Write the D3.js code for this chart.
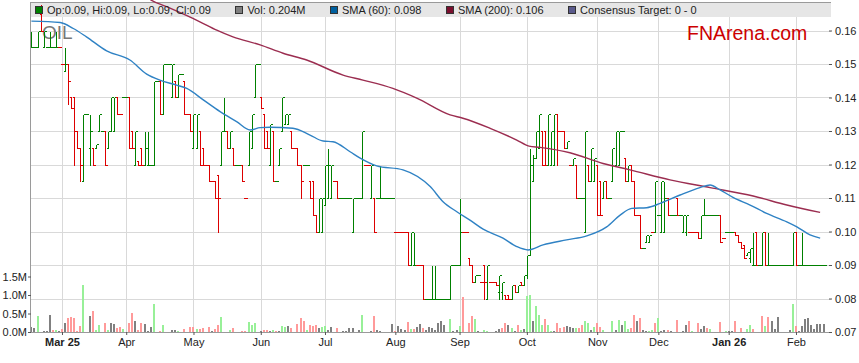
<!DOCTYPE html>
<html>
<head>
<meta charset="utf-8">
<script src="https://cdnjs.cloudflare.com/ajax/libs/d3/7.8.5/d3.min.js"></script>
<style>
	body { margin:0; background:#fff; }
	svg { display:block; font-family:'Liberation Sans', Arial, sans-serif; }
	.axis text { font-size:11px; fill:#222; }
	.axis path { display:none; }
	.axis line { stroke:#555; }
</style>
</head>
<body>
<div id="chart"></div>
<script>

// daily OHLC, one entry per weekday from 17 Feb 2025 to 13 Feb 2026
var opens = [
	.155,.155,.155,.165,.155,.155,.155,.155,.155,.155,
	.150,.148,.150,.140,.140,.130,.125,.115,.135,.125,
	.125,.125,.130,.130,.130,.125,.130,.130,.140,.135,
	.140,.140,.140,.130,.120,.121,.125,.120,.120,.120,
	.120,.145,.145,.135,.150,.150,.140,.145,.140,.147,
	.145,.135,.135,.125,.125,.130,.125,.120,.120,.115,
	.115,.117,.120,.130,.130,.125,.125,.120,.120,.120,
	.110,.120,.125,.140,.150,.140,.135,.130,.120,.130,
	.115,.120,.130,.132,.132,.130,.125,.125,.120,.120,
	.120,.115,.115,.105,.100,.100,.108,.110,.110,.115,
	.115,.110,.110,.110,.110,.100,.110,.110,.110,.120,
	.120,.110,.110,.110,.110,.110,.110,.110,.110,.100,
	.100,.100,.100,.100,.090,.090,.090,.090,.090,.080,
	.080,.080,.080,.080,.080,.080,.080,.080,.090,.090,
	.090,.100,.100,.092,.090,.085,.087,.085,.090,.080,
	.085,.085,.085,.082,.082,.081,.081,.080,.084,.082,
	.085,.084,.087,.093,.115,.122,.125,.130,.130,.120,
	.120,.120,.135,.130,.130,.125,.120,.120,.120,.110,
	.110,.100,.120,.115,.115,.120,.115,.110,.115,.110,
	.115,.120,.120,.130,.122,.115,.120,.115,.105,.105,
	.095,.097,.097,.100,.100,.105,.100,.100,.110,.105,
	.105,.110,.105,.100,.100,.100,.100,.100,.100,.098,
	.105,.105,.105,.105,.105,.105,.098,.100,.100,.100,
	.100,.099,.097,.096,.093,.092,.090,.100,.090,.090,
	.100,.090,.090,.090,.090,.090,.090,.090,.090,.090,
	.100,.090,.090,.090,.090,.090,.090,.090,.090,.090
]

var highs = [
	.160,.155,.160,.168,.160,.155,.160,.155,.160,.155,
	.150,.155,.150,.140,.140,.130,.125,.135,.135,.135,
	.125,.126,.135,.130,.130,.130,.140,.140,.140,.135,
	.140,.140,.140,.130,.130,.121,.125,.130,.130,.120,
	.145,.145,.145,.150,.150,.150,.150,.145,.147,.147,
	.145,.135,.135,.135,.135,.130,.125,.120,.120,.115,
	.115,.117,.130,.140,.130,.130,.125,.120,.120,.120,
	.110,.130,.135,.150,.150,.140,.135,.130,.132,.130,
	.115,.125,.140,.135,.135,.130,.125,.125,.120,.120,
	.120,.115,.115,.105,.110,.110,.120,.125,.120,.115,
	.115,.110,.110,.110,.110,.110,.110,.110,.130,.120,
	.120,.120,.110,.110,.120,.110,.110,.110,.110,.100,
	.100,.100,.100,.100,.100,.100,.090,.090,.090,.080,
	.080,.090,.090,.080,.080,.080,.080,.090,.090,.090,
	.110,.100,.100,.092,.090,.087,.087,.085,.090,.090,
	.085,.085,.085,.087,.085,.081,.081,.084,.084,.084,
	.085,.087,.093,.125,.123,.130,.135,.130,.130,.135,
	.130,.135,.135,.130,.130,.127,.120,.122,.120,.110,
	.110,.130,.120,.125,.122,.120,.115,.115,.115,.110,
	.125,.130,.130,.130,.122,.120,.120,.115,.105,.105,
	.095,.099,.099,.100,.115,.105,.115,.115,.110,.105,
	.105,.110,.105,.105,.105,.100,.100,.100,.100,.105,
	.110,.105,.105,.105,.105,.105,.098,.100,.100,.100,
	.100,.099,.097,.096,.094,.095,.100,.100,.090,.100,
	.100,.100,.090,.090,.090,.090,.090,.090,.090,.100,
	.100,.090,.100,.090,.090,.090,.090,.090,.090,.090
]

var lows = [
	.155,.155,.155,.160,.155,.155,.155,.155,.155,.155,
	.150,.148,.138,.137,.120,.125,.115,.115,.135,.120,
	.120,.125,.130,.130,.120,.125,.130,.130,.135,.135,
	.140,.140,.125,.125,.120,.120,.120,.120,.120,.120,
	.120,.145,.135,.135,.150,.150,.140,.140,.140,.147,
	.135,.135,.130,.125,.125,.120,.120,.120,.115,.115,
	.110,.100,.120,.130,.125,.125,.120,.120,.120,.115,
	.110,.120,.125,.140,.150,.137,.125,.125,.120,.115,
	.115,.120,.130,.132,.132,.125,.125,.120,.110,.120,
	.120,.110,.105,.100,.100,.100,.108,.110,.110,.115,
	.110,.110,.110,.110,.110,.100,.110,.110,.110,.120,
	.120,.110,.100,.110,.110,.110,.110,.110,.110,.100,
	.100,.100,.100,.090,.090,.090,.090,.090,.080,.080,
	.080,.080,.080,.080,.080,.080,.080,.080,.090,.090,
	.090,.100,.100,.090,.085,.085,.087,.085,.080,.080,
	.085,.085,.084,.080,.080,.080,.080,.080,.082,.082,
	.084,.084,.086,.093,.115,.122,.125,.120,.120,.120,
	.120,.120,.120,.130,.125,.125,.120,.120,.110,.110,
	.110,.100,.115,.115,.115,.105,.105,.110,.110,.110,
	.115,.120,.120,.130,.115,.115,.115,.105,.105,.095,
	.095,.097,.097,.100,.100,.105,.100,.100,.105,.105,
	.105,.105,.105,.100,.099,.100,.100,.100,.098,.098,
	.105,.105,.105,.105,.105,.097,.098,.100,.100,.100,
	.099,.097,.095,.092,.093,.091,.090,.090,.090,.090,
	.090,.090,.090,.090,.090,.090,.090,.090,.090,.090,
	.090,.090,.090,.090,.090,.090,.090,.090,.090,.090
]

var closes = [
	.155,.155,.160,.160,.160,.155,.155,.155,.155,.155,
	.150,.150,.145,.137,.130,.125,.120,.135,.135,.130,
	.120,.126,.135,.130,.120,.130,.140,.140,.135,.135,
	.140,.140,.125,.125,.130,.120,.120,.125,.120,.120,
	.145,.145,.135,.150,.150,.150,.150,.140,.147,.147,
	.135,.135,.130,.135,.135,.120,.120,.120,.115,.115,
	.110,.110,.130,.130,.125,.130,.120,.120,.120,.115,
	.110,.130,.135,.150,.150,.137,.125,.125,.132,.115,
	.115,.125,.140,.135,.135,.125,.125,.120,.115,.120,
	.120,.110,.105,.100,.110,.110,.120,.120,.120,.115,
	.110,.110,.110,.110,.110,.110,.110,.110,.130,.120,
	.120,.120,.100,.110,.110,.110,.110,.110,.110,.100,
	.100,.100,.100,.090,.100,.090,.090,.090,.080,.080,
	.080,.080,.080,.080,.080,.080,.080,.090,.090,.090,
	.100,.100,.100,.090,.085,.087,.087,.085,.085,.090,
	.085,.085,.084,.087,.085,.080,.080,.084,.082,.084,
	.084,.087,.093,.120,.122,.130,.135,.120,.120,.135,
	.130,.135,.130,.130,.125,.127,.120,.122,.110,.110,
	.110,.130,.115,.125,.122,.105,.105,.115,.110,.110,
	.125,.130,.130,.130,.115,.120,.115,.105,.105,.095,
	.095,.099,.099,.100,.115,.105,.115,.110,.105,.105,
	.105,.105,.105,.105,.105,.100,.100,.100,.098,.105,
	.105,.105,.105,.105,.105,.097,.098,.100,.100,.100,
	.099,.097,.095,.092,.094,.095,.090,.090,.090,.100,
	.090,.090,.090,.090,.090,.090,.090,.090,.090,.100,
	.090,.090,.090,.090,.090,.090,.090,.090,.090,.090
]

// g = green bar, r = red bar
var barDir = (
	'gggrgggggr' + 'rgrrrrrggg' + 'rgggrgggrr' + 'ggrrgrrggg' + 'ggrggggrgg' +
	'rrrggrrrrr' + 'rrggrgrggr' + 'rggggrrrgr' + 'gggggrrrrg' + 'grrrgggggr' +
	'rggggggggr' + 'rgrggggggr' + 'rrrrggrrrg' + 'gggggggggg' + 'grrrrggrrg' +
	'rrrggrrgrg' + 'rggggggrrg' + 'ggrrrgrgrg' + 'ggrggrrgrg' + 'ggggrgrrrr' +
	'gggrggggrg' + 'grgggrrrrg' + 'gggggrrggg' + 'rrrrgggrgg' + 'rggggggggg' +
	'rggggggggg'
).split('')

// volume in millions
var volumes = [
	.135,.10,.43,0,.03,.03,.46,.06,.06,.03,
	.07,.25,.38,.41,.39,.04,.16,1.27,0,.43,
	.58,.06,.20,0,.25,.06,.24,.22,.12,.14,
	.08,0,.25,.52,.30,.06,.24,.22,.04,.14,
	.76,0,.03,.19,0,0,.06,.05,.03,0,
	.09,0,.13,.13,.09,.08,.10,0,.14,.04,
	.08,.18,.40,0,0,.06,.10,0,0,.03,
	.03,.27,.20,.25,0,.02,.05,.05,.03,.05,
	.04,.03,.16,.13,.16,.12,0,.22,.37,.31,
	.06,.20,.15,.19,.10,.14,.16,.06,.13,0,
	.11,0,.03,.04,.10,.10,0,.05,.46,0,
	0,.03,.43,.05,.03,0,0,0,.22,.03,
	.16,.08,.05,.28,.08,.07,.14,.22,.10,.06,
	.14,.10,.05,.24,.31,.20,0,.35,.03,.05,
	.16,.95,0,.24,.43,.35,.03,0,.06,.03,
	0,0,.03,.07,.10,.25,.20,.11,.03,.20,
	.05,.08,.97,1.0,.30,.70,.46,.20,.35,.20,
	.03,.03,.25,.10,.14,.17,.13,.10,.12,.12,
	.18,.30,.23,.05,.13,.25,.13,.05,0,0,
	.30,.05,.32,.20,.30,.07,.10,.45,.30,.38,
	.05,.02,.02,.05,.25,.37,.02,.05,.05,.03,
	0,.33,0,.02,.20,.30,.02,0,.25,.08,
	.15,.10,.09,0,0,.27,0,.02,.02,.03,
	.30,0,.10,0,.08,.20,.08,0,0,.44,
	.15,.41,.30,.08,.40,0,0,0,.06,.76,
	.16,.02,.15,.35,.38,.20,.08,.22,.22,.204
]

// u = up, d = down, n = unchanged
var volDir = (
	'nnunnnndun' + 'dndddddunn' + 'duundunndd' + 'unddnddnnn' + 'undunnnnun' +
	'dndduddndn' + 'ddunnudnnd' + 'duuunnddnu' + 'dnuundnddd' + 'udddnuunnn' +
	'dnnnnnnnun' + 'nndnnnnnnd' + 'nnndudnndn' + 'nnnnnnnunn' + 'udnddunnuu' +
	'nnnnddnund' + 'unuunuuudu' + 'undddnnnud' + 'duunuddunn' + 'ununuuddnd' +
	'nnuudunndn' + 'ndnnndundn' + 'ndunndnunn' + 'dndnuudnnd' + 'udnnnnnnnu' +
	'dnnnnnnnnn'
).split('')

// moving averages (bar index, value)
var sma60Idx = [0,9.4,13.7,18,24.6,32.2,37.7,42,47.5,50.8,56.2,61.7,67.1,71.5,74.8,78,85.5,91.1,95.4,98.6,
	104.2,107.5,112.9,121.5,130.4,134.6,139.1,143.4,147.7,154.2,158.7,162.4,167.3,175,181.6,188.1,192.5,
	196.3,201.2,205.6,212.1,218.6,221.9,225.2,229.4,235,240.4,247,250.3,254.6,257.9]
var sma60Val = [.1628,.1624,.1606,.1581,.1539,.1512,.147,.1452,.1437,.1427,.1393,.1358,.1328,.1303,.131,.1311,
	.1308,.1288,.127,.1268,.1238,.1219,.1196,.1184,.1134,.1089,.1059,.1034,.1007,.098,.0955,.0945,.096,.0975,
	.0987,.1014,.1049,.1069,.1071,.1084,.1109,.1131,.1139,.1124,.1102,.1079,.1054,.1029,.1014,.099,.098]

var sma200Idx = [35.5,39.3,44.2,55.1,60.6,65.9,74.8,82.3,90,101.9,108.4,118.2,126,136.9,141.1,150,158.7,162.7,
	166.3,176.1,186.9,195.7,208.8,221.9,236,247,257.9]
var sma200Val = [.1715,.169,.1671,.1626,.1601,.1581,.1557,.1532,.1512,.1467,.1452,.1427,.1398,.1348,.1338,.1308,
	.1273,.1255,.1251,.1235,.1203,.1184,.1154,.1131,.1106,.1079,.1057]

var priceTicks = [0.07,0.08,0.09,0.10,0.11,0.12,0.13,0.14,0.15,0.16]
var volTicks = [0, 0.5, 1.0, 1.5]
var monthLabels = ['Mar 25','Apr','May','Jun','Jul','Aug','Sep','Oct','Nov','Dec','Jan 26','Feb']

var lastSma60 = 0.098
var lastSma200 = 0.106

// ======

var dates = d3.timeDay.range(new Date(2025,1,17), new Date(2026,1,14)).filter(function(d) {
	return d.getDay() != 0 && d.getDay() != 6
})

var monthIdx = []
dates.forEach(function(d, i) {
	if (i > 0 && d.getMonth() != dates[i-1].getMonth()) monthIdx.push(i)
})

var W = 859, H = 363
var left = 31, right = 831, bottom = 332

var svg = d3.select('#chart').append('svg')
	.attr('width', W)
	.attr('height', H)

var x = d3.scaleLinear().domain([0, 259]).range([31.4, 823.5])
var y = d3.scaleLinear().domain([0.07, 0.16]).range([332, 30.5])
var yVol = d3.scaleLinear().domain([0, 1.5]).range([332, 276.5])

var px = function(v) { return Math.round(v) + 0.5 }

svg.append('defs').append('clipPath').attr('id', 'plot')
	.append('rect')
	.attr('x', left).attr('y', 0)
	.attr('width', right - left).attr('height', bottom)

// grid
var grid = svg.append('g').attr('shape-rendering', 'crispEdges')

grid.selectAll('.hgrid')
	.data(priceTicks)
	.enter().append('line')
	.attr('class', 'hgrid')
	.attr('x1', left).attr('x2', right)
	.attr('y1', function(d) { return px(y(d)) })
	.attr('y2', function(d) { return px(y(d)) })
	.attr('stroke', '#d9d9d9')

grid.selectAll('.vgrid')
	.data(monthIdx)
	.enter().append('line')
	.attr('class', 'vgrid')
	.attr('x1', function(d) { return px(x(d)) })
	.attr('x2', function(d) { return px(x(d)) })
	.attr('y1', 17).attr('y2', bottom)
	.attr('stroke', '#d9d9d9')

// legend band
svg.append('rect')
	.attr('x', left).attr('y', 2.5)
	.attr('width', right - left).attr('height', 14.5)
	.attr('fill', '#e6e6e6')

svg.append('line')
	.attr('x1', left).attr('x2', right)
	.attr('y1', 2.5).attr('y2', 2.5)
	.attr('stroke', '#9a9a9a')

svg.append('line')
	.attr('x1', 30.5).attr('x2', 30.5)
	.attr('y1', 2).attr('y2', bottom)
	.attr('stroke', '#9a9a9a')

svg.append('line')
	.attr('x1', left).attr('x2', right)
	.attr('y1', 332.5).attr('y2', 332.5)
	.attr('stroke', '#9a9a9a')

// watermark texts
svg.append('text')
	.attr('x', 42).attr('y', 39)
	.attr('font-size', 19)
	.attr('fill', '#777')
	.text('OIL')

svg.append('text')
	.attr('x', 687).attr('y', 39.5)
	.attr('font-size', 19.5)
	.attr('fill', '#cc0000')
	.text('FNArena.com')

var body = svg.append('g').attr('clip-path', 'url(#plot)')

// volume
var volColor = { u: '#98f098', d: '#ff9a9a', n: '#808080' }

body.append('g').selectAll('rect')
	.data(volumes)
	.enter().append('rect')
	.attr('x', function(d, i) { return Math.round(x(i)) - 1 })
	.attr('width', 2)
	.attr('y', function(d) { return Math.round(yVol(d)) })
	.attr('height', function(d) { return bottom - Math.round(yVol(d)) })
	.attr('fill', function(d, i) { return volColor[volDir[i]] })

// price bars
body.append('g')
	.attr('shape-rendering', 'crispEdges')
	.selectAll('path')
	.data(closes)
	.enter().append('path')
	.attr('d', function(d, i) {
		var xv = px(x(i))
		var yo = px(y(opens[i])), yc = px(y(d))
		var yh = px(y(highs[i])), yl = px(y(lows[i]))
		return 'M' + xv + ',' + yh + 'V' + yl +
			'M' + (xv - 2) + ',' + yo + 'H' + xv +
			'M' + xv + ',' + yc + 'H' + (xv + 2)
	})
	.attr('fill', 'none')
	.attr('stroke', function(d, i) { return barDir[i] == 'g' ? '#008000' : '#dd0000' })
	.attr('stroke-width', 1)

// moving averages
var line = d3.line()
	.x(function(d) { return x(d[0]) })
	.y(function(d) { return y(d[1]) })
	.curve(d3.curveMonotoneX)

body.append('path')
	.attr('d', line(d3.zip(sma200Idx, sma200Val)))
	.attr('fill', 'none')
	.attr('stroke', '#9b2d50')
	.attr('stroke-width', 1.4)

body.append('path')
	.attr('d', line(d3.zip(sma60Idx, sma60Val)))
	.attr('fill', 'none')
	.attr('stroke', '#2f82c4')
	.attr('stroke-width', 1.4)

// axes
svg.append('g')
	.attr('class', 'axis')
	.attr('transform', 'translate(829,0)')
	.call(d3.axisRight(y).tickValues(priceTicks).tickSize(3).tickPadding(3).tickFormat(d3.format('.2f')))

svg.append('g')
	.attr('class', 'axis')
	.attr('transform', 'translate(31,0)')
	.call(d3.axisLeft(yVol).tickValues(volTicks).tickSize(3).tickPadding(1).tickFormat(function(d) {
		return d.toFixed(1) + 'M'
	}))

var xAxis = svg.append('g')
	.attr('class', 'axis')
	.attr('transform', 'translate(0,' + bottom + ')')
	.call(d3.axisBottom(x).tickValues(monthIdx).tickSize(3).tickPadding(3).tickFormat(function(d, i) {
		return monthLabels[i]
	}))

xAxis.selectAll('text')
	.attr('font-weight', function(d, i) { return /\d/.test(monthLabels[i]) ? 'bold' : 'normal' })

// legend
var fmt = d3.format('.2f')
var last = closes.length - 1
var legendItems = [
	{ color: '#008000', label: 'Op:' + fmt(opens[last]) + ', Hi:' + fmt(highs[last]) + ', Lo:' + fmt(lows[last]) + ', Cl:' + fmt(closes[last]) },
	{ color: '#808080', label: 'Vol: ' + d3.format('.3f')(volumes[last]) + 'M' },
	{ color: '#00609f', label: 'SMA (60): ' + d3.format('.3f')(lastSma60) },
	{ color: '#7a0f2e', label: 'SMA (200): ' + d3.format('.3f')(lastSma200) },
	{ color: '#5a5a8c', label: 'Consensus Target: 0 - 0' }
]

var legend = svg.append('g')
var cursor = 35.5
legendItems.forEach(function(item) {
	legend.append('rect')
		.attr('x', cursor).attr('y', 6.5)
		.attr('width', 7).attr('height', 7)
		.attr('fill', item.color)
		.attr('stroke', '#333')
		.attr('shape-rendering', 'crispEdges')
	var t = legend.append('text')
		.attr('x', cursor + 11.5).attr('y', 14)
		.attr('font-size', 11)
		.attr('fill', '#222')
		.text(item.label)
	cursor = cursor + 11.5 + t.node().getComputedTextLength() + 25
})

</script>
</body>
</html>
